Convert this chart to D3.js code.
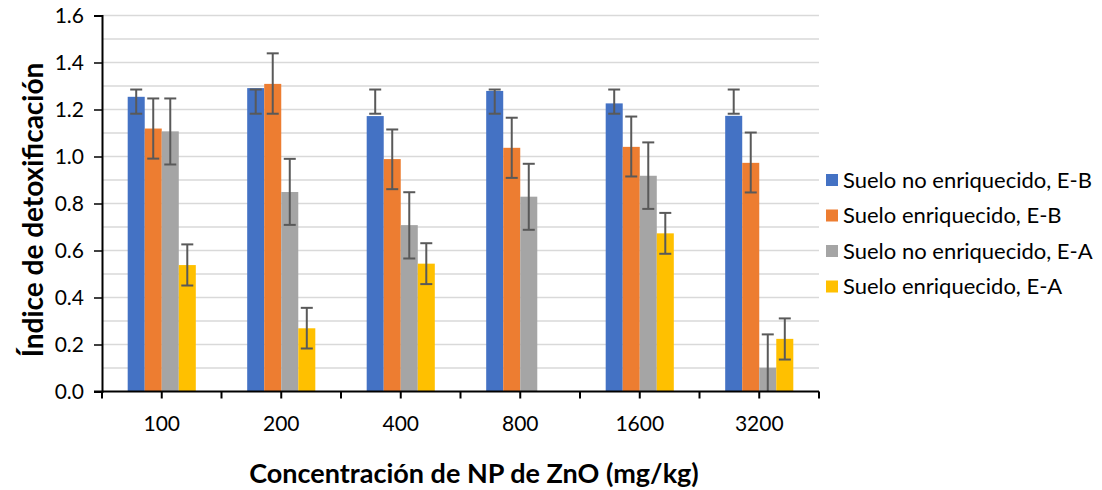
<!DOCTYPE html>
<html>
<head>
<meta charset="utf-8">
<script src="https://cdn.jsdelivr.net/npm/d3@7"></script>
<style>
  html, body { margin: 0; padding: 0; background: #fff; }
  svg { display: block; font-family: Lato, "Open Sans", sans-serif; }
</style>
</head>
<body>
<svg id="chart" width="1102" height="490"></svg>
<script>
// Concentrations of ZnO nanoparticles (mg/kg)
const categories = ["100", "200", "400", "800", "1600", "3200"];

const seriesNames = [
  "Suelo no enriquecido, E-B",
  "Suelo enriquecido, E-B",
  "Suelo no enriquecido, E-A",
  "Suelo enriquecido, E-A"
];
const seriesColors = ["#4472C4", "#ED7D31", "#A5A5A5", "#FFC000"];

// Detoxification index per series
const noEnrEB = [1.254, 1.291, 1.172, 1.279, 1.226, 1.173];
const enrEB   = [1.119, 1.309, 0.989, 1.037, 1.041, 0.973];
const noEnrEA = [1.107, 0.849, 0.708, 0.829, 0.918, 0.101];
const enrEA   = [0.538, 0.269, 0.544, null, 0.673, 0.224];

// Error bar bounds (lower / upper)
const noEnrEBLow  = [1.182, 1.182, 1.182, 1.182, 1.182, 1.182];
const noEnrEBHigh = [1.285, 1.285, 1.285, 1.285, 1.285, 1.285];
const enrEBLow    = [0.991, 1.182, 0.861, 0.909, 0.915, 0.847];
const enrEBHigh   = [1.247, 1.439, 1.115, 1.165, 1.170, 1.102];
const noEnrEALow  = [0.966, 0.709, 0.566, 0.688, 0.777, -0.040];
const noEnrEAHigh = [1.247, 0.990, 0.848, 0.969, 1.060, 0.243];
const enrEALow    = [0.451, 0.183, 0.457, null, 0.586, 0.136];
const enrEAHigh   = [0.626, 0.356, 0.631, null, 0.760, 0.311];

const yTicks = [0, 0.2, 0.4, 0.6, 0.8, 1.0, 1.2, 1.4, 1.6];
const yMinor = [0.1, 0.3, 0.5, 0.7, 0.9, 1.1, 1.3, 1.5];

const series = [
  { name: seriesNames[0], color: seriesColors[0], values: noEnrEB, low: noEnrEBLow, high: noEnrEBHigh },
  { name: seriesNames[1], color: seriesColors[1], values: enrEB,   low: enrEBLow,   high: enrEBHigh },
  { name: seriesNames[2], color: seriesColors[2], values: noEnrEA, low: noEnrEALow, high: noEnrEAHigh },
  { name: seriesNames[3], color: seriesColors[3], values: enrEA,   low: enrEALow,   high: enrEAHigh }
];

const svg = d3.select("#chart");
const plot = { left: 102, right: 819, top: 15.5, bottom: 391.5 };

const y = d3.scaleLinear().domain([0, 1.6]).range([plot.bottom, plot.top]);
const x = d3.scaleBand().domain(categories).range([plot.left, plot.right]).paddingInner(0).paddingOuter(0);
const groupWidth = x.bandwidth() * 0.57;
const xs = d3.scaleBand().domain(d3.range(series.length)).range([0, groupWidth]);

// Gridlines
const grid = svg.append("g");
grid.selectAll("line")
  .data(yTicks.concat(yMinor).filter(v => v > 0))
  .join("line")
  .attr("x1", plot.left).attr("x2", plot.right)
  .attr("y1", d => y(d)).attr("y2", d => y(d))
  .attr("stroke", "#d9d9d9").attr("stroke-width", 1.3);

// Bars
const bars = svg.append("g");
series.forEach((s, si) => {
  bars.selectAll(null)
    .data(categories.map((c, i) => ({ c, v: s.values[i] })).filter(d => d.v != null))
    .join("rect")
    .attr("x", d => x(d.c) + (x.bandwidth() - groupWidth) / 2 + xs(si))
    .attr("width", xs.bandwidth())
    .attr("y", d => y(d.v))
    .attr("height", d => y(0) - y(d.v))
    .attr("fill", s.color);
});

// Error bars
const errG = svg.append("g").attr("stroke", "#595959").attr("stroke-width", 2);
const capHalf = 6;
series.forEach((s, si) => {
  categories.forEach((c, i) => {
    if (s.low[i] == null || s.high[i] == null) return;
    const cx = x(c) + (x.bandwidth() - groupWidth) / 2 + xs(si) + xs.bandwidth() / 2;
    const lo = Math.max(0, s.low[i]);
    const yl = y(lo), yh = y(s.high[i]);
    errG.append("line").attr("x1", cx).attr("x2", cx).attr("y1", yl).attr("y2", yh);
    errG.append("line").attr("x1", cx - capHalf).attr("x2", cx + capHalf).attr("y1", yh).attr("y2", yh);
    if (s.low[i] >= 0) {
      errG.append("line").attr("x1", cx - capHalf).attr("x2", cx + capHalf).attr("y1", yl).attr("y2", yl);
    }
  });
});

// Y axis
const yAxis = d3.axisLeft(y).tickValues(yTicks).tickFormat(d3.format(".1f")).tickSize(8).tickPadding(10);
const yg = svg.append("g").attr("transform", `translate(${plot.left},0)`).call(yAxis);
yg.select(".domain").attr("stroke", "#000").attr("stroke-width", 2);
yg.selectAll(".tick line").attr("stroke", "#000").attr("stroke-width", 1.5);
yg.selectAll(".tick text").attr("font-size", 21).attr("fill", "#000").attr("font-family", "Lato, sans-serif");

// X axis: ticks at category boundaries and centres
const xg = svg.append("g").attr("transform", `translate(0,${plot.bottom})`);
xg.append("line").attr("x1", plot.left - 8).attr("x2", plot.right)
  .attr("y1", 0).attr("y2", 0).attr("stroke", "#000").attr("stroke-width", 2);
const tickPos = [];
categories.forEach(c => { tickPos.push(x(c)); tickPos.push(x(c) + x.bandwidth() / 2); });
tickPos.push(plot.right);
xg.selectAll(".xt").data(tickPos).join("line")
  .attr("x1", d => d).attr("x2", d => d).attr("y1", 0).attr("y2", 7)
  .attr("stroke", "#000").attr("stroke-width", 2);
xg.selectAll(".xl").data(categories).join("text")
  .attr("x", d => x(d) + x.bandwidth() / 2)
  .attr("y", 39)
  .attr("text-anchor", "middle")
  .attr("font-size", 21)
  .text(d => d);

// Axis titles
svg.append("text")
  .attr("transform", `translate(43,210) rotate(-90)`)
  .attr("text-anchor", "middle")
  .attr("font-size", 28).attr("font-weight", "bold")
  .text("Índice de detoxificación");

svg.append("text")
  .attr("x", 474).attr("y", 483)
  .attr("text-anchor", "middle")
  .attr("font-size", 27).attr("font-weight", "bold")
  .text("Concentración de NP de ZnO (mg/kg)");

// Legend
const legend = svg.append("g").attr("transform", "translate(826,180)");
const row = legend.selectAll("g").data(series).join("g")
  .attr("transform", (d, i) => `translate(0,${i * 35.5})`);
row.append("rect").attr("y", -6).attr("width", 12).attr("height", 12).attr("fill", d => d.color);
row.append("text").attr("x", 17).attr("y", 0).attr("dy", "0.35em").attr("font-size", 22).text(d => d.name);
</script>
</body>
</html>
